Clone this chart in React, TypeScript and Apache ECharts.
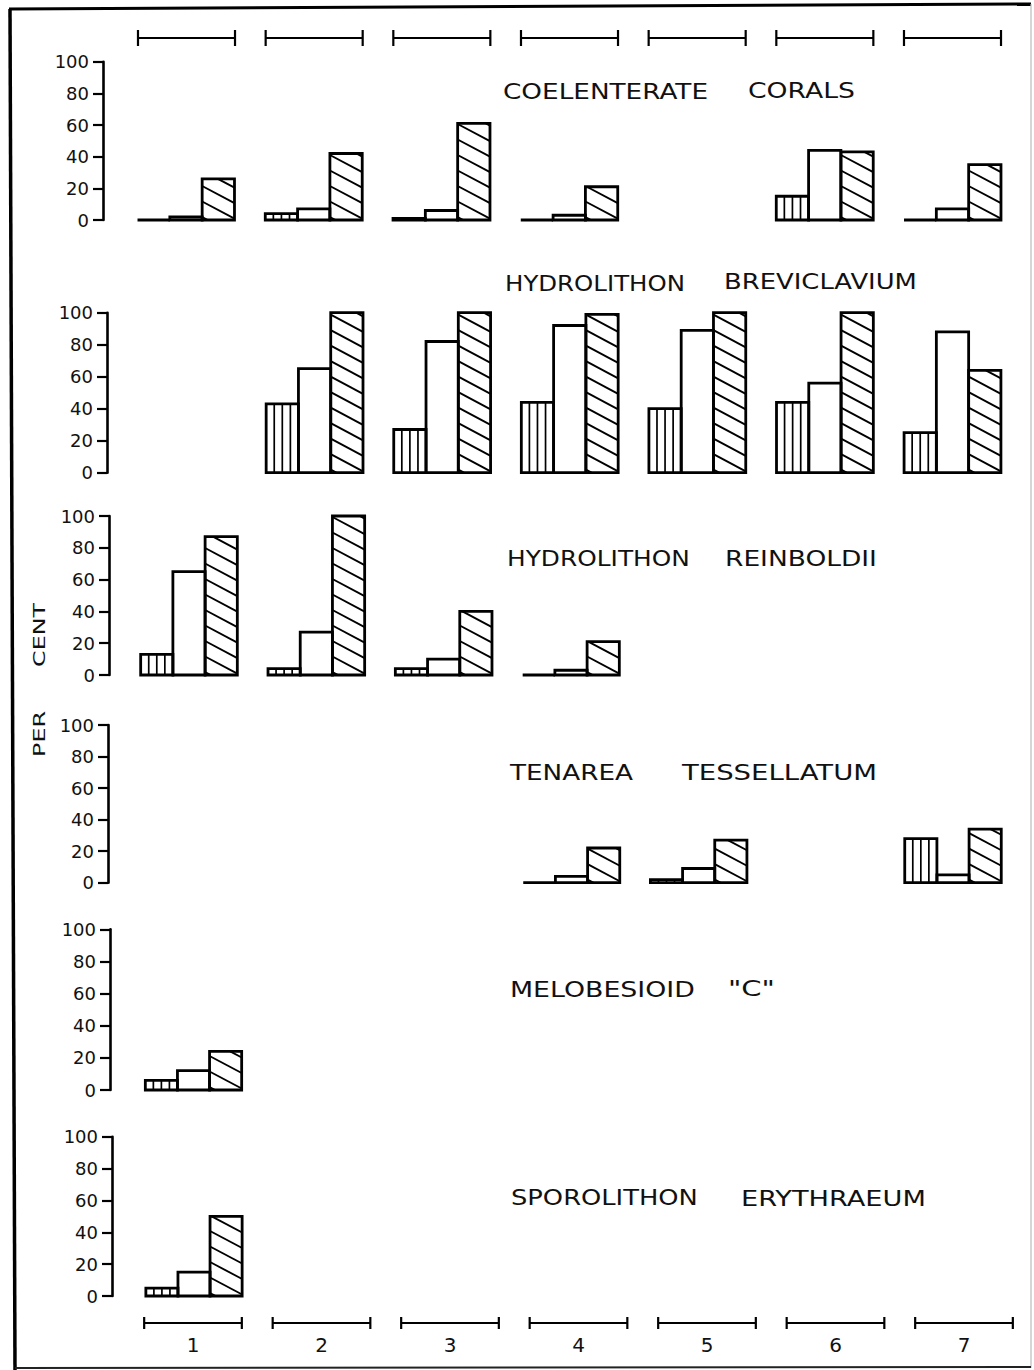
import React, { useEffect, useRef } from 'react';
import * as echarts from 'echarts';

// ---------- DATA ----------
const SITES = ['1', '2', '3', '4', '5', '6', '7'];
const Y_MIN = 0;
const Y_MAX = 100;
const Y_STEP = 20;

const CORALS_VERT = [0, 4, 1, 0, null, 15, 0];
const CORALS_OPEN = [2, 7, 6, 3, null, 44, 7];
const CORALS_DIAG = [26, 42, 61, 21, null, 43, 35];

const BREV_VERT = [null, 43, 27, 44, 40, 44, 25];
const BREV_OPEN = [null, 65, 82, 92, 89, 56, 88];
const BREV_DIAG = [null, 100, 100, 99, 100, 100, 64];

const REIN_VERT = [13, 4, 4, 0, null, null, null];
const REIN_OPEN = [65, 27, 10, 3, null, null, null];
const REIN_DIAG = [87, 100, 40, 21, null, null, null];

const TESS_VERT = [null, null, null, 0, 2, null, 28];
const TESS_OPEN = [null, null, null, 4, 9, null, 5];
const TESS_DIAG = [null, null, null, 22, 27, null, 34];

const MELO_VERT = [6, null, null, null, null, null, null];
const MELO_OPEN = [12, null, null, null, null, null, null];
const MELO_DIAG = [24, null, null, null, null, null, null];

const SPORO_VERT = [5, null, null, null, null, null, null];
const SPORO_OPEN = [15, null, null, null, null, null, null];
const SPORO_DIAG = [50, null, null, null, null, null, null];

const PANEL_DATA = [
  [CORALS_VERT, CORALS_OPEN, CORALS_DIAG],
  [BREV_VERT, BREV_OPEN, BREV_DIAG],
  [REIN_VERT, REIN_OPEN, REIN_DIAG],
  [TESS_VERT, TESS_OPEN, TESS_DIAG],
  [MELO_VERT, MELO_OPEN, MELO_DIAG],
  [SPORO_VERT, SPORO_OPEN, SPORO_DIAG],
];

const PANEL_TITLES = [
  ['COELENTERATE', 'CORALS'],
  ['HYDROLITHON', 'BREVICLAVIUM'],
  ['HYDROLITHON', 'REINBOLDII'],
  ['TENAREA', 'TESSELLATUM'],
  ['MELOBESIOID', '"C"'],
  ['SPOROLITHON', 'ERYTHRAEUM'],
];

const Y_NAME_WORDS = ['PER', 'CENT'];

// ---------- LAYOUT (positions only) ----------
const PANEL_LAYOUT = [
  { axisX: 103, c1: 186, c7: 952.5, top: 61.7, bottom: 220, words: [[503, 708, 91], [748, 855, 90]] },
  { axisX: 107, c1: 187, c7: 952.5, top: 312.7, bottom: 472.7, words: [[505, 685, 283], [724, 917, 282]] },
  { axisX: 109, c1: 189, c7: 953, top: 516, bottom: 675, words: [[507, 690, 558], [725, 877, 558]] },
  { axisX: 108, c1: 190, c7: 953, top: 725, bottom: 882.7, words: [[510, 633, 773], [682, 877, 772]] },
  { axisX: 110, c1: 193.5, c7: 955, top: 929.3, bottom: 1090, words: [[510, 695, 989], [728, 775, 988]] },
  { axisX: 112, c1: 194, c7: 955, top: 1136.7, bottom: 1296, words: [[511, 698, 1198], [741, 926, 1198]] },
];
const TOP_BRACKETS = { c1: 186.5, c7: 952.5, top: 30, bottom: 46 };
const BOTTOM_BRACKETS = { c1: 193, c7: 964, top: 1317, bottom: 1329 };

const INK = '#111';
const FONT = '"DejaVu Sans", "Liberation Sans", sans-serif';
const TITLE_FONT_SIZE = 22;

function measure(text: string, font: string): number {
  const c = document.createElement('canvas');
  const ctx = c.getContext('2d');
  if (!ctx) return text.length * 14;
  ctx.font = font;
  return ctx.measureText(text).width;
}

function barRenderItem(params: any, api: any) {
  const i = api.value(0);
  const base = api.coord([i, 0]);
  const cx = base[0];
  const y0 = base[1];
  const band = api.size([1, 0])[0];
  const bw = band * 0.253;
  const x0 = cx - 1.5 * bw;
  const fills: any[] = [];
  const hatch: any[] = [];
  const outlines: any[] = [];
  for (let k = 0; k < 3; k++) {
    const raw = api.value(k + 1);
    if (raw === null || raw === undefined || isNaN(raw)) continue;
    const yt = api.coord([i, raw])[1];
    const xl = x0 + k * bw;
    const h = y0 - yt;
    fills.push({ type: 'rect', shape: { x: xl, y: yt, width: bw, height: h }, style: { fill: '#fff' } });
    if (h > 0.5) {
      if (k === 0) {
        for (let j = 1; j <= 3; j++) {
          const lx = xl + (j * bw) / 4;
          hatch.push({ type: 'line', shape: { x1: lx, y1: yt, x2: lx, y2: y0 }, style: { stroke: '#000', lineWidth: 1.7 } });
        }
      } else if (k === 2) {
        const s = 0.53;
        const gap = 15.5;
        for (let a = y0 - 3; a > yt - s * bw - gap; a -= gap) {
          const xs = Math.max(xl, xl + (yt - a) / s);
          const xe = Math.min(xl + bw, xl + (y0 - a) / s);
          if (xe > xs + 0.8) {
            hatch.push({
              type: 'line',
              shape: { x1: xs, y1: a + s * (xs - xl), x2: xe, y2: a + s * (xe - xl) },
              style: { stroke: '#000', lineWidth: 1.9 },
            });
          }
        }
      }
    }
    outlines.push({ type: 'rect', shape: { x: xl, y: yt, width: bw, height: h }, style: { fill: 'none', stroke: '#000', lineWidth: 2.8 } });
  }
  return { type: 'group', children: [...fills, ...hatch, ...outlines] };
}

function bracketRenderItem(params: any, api: any) {
  const i = api.value(0);
  const mid = api.coord([i, 0.5]);
  const yTop = api.coord([i, 1])[1];
  const yBot = api.coord([i, 0])[1];
  const half = api.size([1, 0])[0] * 0.38;
  const st = { stroke: '#000', lineWidth: 2.2 };
  return {
    type: 'group',
    children: [
      { type: 'line', shape: { x1: mid[0] - half, y1: mid[1], x2: mid[0] + half, y2: mid[1] }, style: st },
      { type: 'line', shape: { x1: mid[0] - half, y1: yTop, x2: mid[0] - half, y2: yBot }, style: st },
      { type: 'line', shape: { x1: mid[0] + half, y1: yTop, x2: mid[0] + half, y2: yBot }, style: st },
    ],
  };
}

function buildOption() {
  const grid: any[] = [];
  const xAxis: any[] = [];
  const yAxis: any[] = [];
  const series: any[] = [];
  const graphic: any[] = [];

  PANEL_LAYOUT.forEach((L, p) => {
    const bw = (L.c7 - L.c1) / 6;
    const left = L.c1 - bw / 2;
    grid.push({ left, top: L.top, width: bw * 7, height: L.bottom - L.top, containLabel: false, outerBoundsMode: 'none' });
    xAxis.push({ type: 'category', gridIndex: p, data: SITES, show: false, boundaryGap: true });
    yAxis.push({
      type: 'value', gridIndex: p, min: Y_MIN, max: Y_MAX, interval: Y_STEP,
      offset: left - L.axisX,
      axisLine: { show: true, lineStyle: { color: '#000', width: 2.6 } },
      axisTick: { show: true, inside: false, length: 10, lineStyle: { color: '#000', width: 2.2 } },
      axisLabel: { show: true, margin: 14, color: INK, fontSize: 18, fontFamily: FONT },
      splitLine: { show: false },
    });
    const [V, O, D] = PANEL_DATA[p];
    const rows: any[] = [];
    SITES.forEach((_, i) => {
      if (V[i] === null && O[i] === null && D[i] === null) return;
      rows.push([i, V[i] === null ? '-' : V[i], O[i] === null ? '-' : O[i], D[i] === null ? '-' : D[i]]);
    });
    series.push({
      type: 'custom', xAxisIndex: p, yAxisIndex: p, renderItem: barRenderItem,
      encode: { x: 0, y: [1, 2, 3] }, data: rows, silent: true,
    });
    // titles
    PANEL_TITLES[p].forEach((w, k) => {
      const [xl, xr, yc] = L.words[k];
      const font = `${TITLE_FONT_SIZE}px ${FONT}`;
      const mw = measure(w, font);
      graphic.push({
        type: 'text', x: xl, y: yc, scaleX: (xr - xl) / mw, silent: true,
        style: { text: w, font, fill: INK, align: 'left', verticalAlign: 'middle' },
      });
    });
  });

  // top brackets
  const tIdx = grid.length;
  const tbw = (TOP_BRACKETS.c7 - TOP_BRACKETS.c1) / 6;
  grid.push({ left: TOP_BRACKETS.c1 - tbw / 2, top: TOP_BRACKETS.top, width: tbw * 7, height: TOP_BRACKETS.bottom - TOP_BRACKETS.top, containLabel: false, outerBoundsMode: 'none' });
  xAxis.push({ type: 'category', gridIndex: tIdx, data: SITES, show: false });
  yAxis.push({ type: 'value', gridIndex: tIdx, min: 0, max: 1, show: false });
  series.push({ type: 'custom', xAxisIndex: tIdx, yAxisIndex: tIdx, renderItem: bracketRenderItem, encode: { x: 0 }, data: SITES.map((_, i) => [i]), silent: true });

  // bottom brackets with site labels
  const bIdx = grid.length;
  const bbw = (BOTTOM_BRACKETS.c7 - BOTTOM_BRACKETS.c1) / 6;
  grid.push({ left: BOTTOM_BRACKETS.c1 - bbw / 2, top: BOTTOM_BRACKETS.top, width: bbw * 7, height: BOTTOM_BRACKETS.bottom - BOTTOM_BRACKETS.top, containLabel: false, outerBoundsMode: 'none' });
  xAxis.push({
    type: 'category', gridIndex: bIdx, data: SITES, position: 'bottom',
    axisLine: { show: false }, axisTick: { show: false },
    axisLabel: { show: true, margin: 6, color: INK, fontSize: 20, fontFamily: FONT },
  });
  yAxis.push({ type: 'value', gridIndex: bIdx, min: 0, max: 1, show: false });
  series.push({ type: 'custom', xAxisIndex: bIdx, yAxisIndex: bIdx, renderItem: bracketRenderItem, encode: { x: 0 }, data: SITES.map((_, i) => [i]), silent: true });

  // y axis name "PER CENT"
  const yNamePos = [[40, 734, 46], [40, 635, 64]];
  Y_NAME_WORDS.forEach((w, k) => {
    const font = `15px ${FONT}`;
    const mw = measure(w, font);
    graphic.push({
      type: 'text', x: yNamePos[k][0], y: yNamePos[k][1], rotation: Math.PI / 2, scaleX: yNamePos[k][2] / mw, silent: true,
      style: { text: w, font, fill: INK, align: 'center', verticalAlign: 'middle' },
    });
  });

  // frame
  graphic.push({ type: 'line', silent: true, shape: { x1: 10, y1: 9, x2: 15, y2: 1370 }, style: { stroke: '#000', lineWidth: 3.5 } });
  graphic.push({ type: 'line', silent: true, shape: { x1: 9, y1: 9, x2: 1031, y2: 4 }, style: { stroke: '#000', lineWidth: 3 } });
  graphic.push({ type: 'line', silent: true, shape: { x1: 1031, y1: 4, x2: 1031, y2: 1368 }, style: { stroke: '#bbb', lineWidth: 1.2 } });
  graphic.push({ type: 'line', silent: true, shape: { x1: 15, y1: 1368, x2: 1031, y2: 1367 }, style: { stroke: '#222', lineWidth: 2 } });

  return {
    animation: false,
    backgroundColor: '#fff',
    grid, xAxis, yAxis, series, graphic,
  };
}

export default function App() {
  const ref = useRef<HTMLDivElement>(null);
  useEffect(() => {
    if (!ref.current) return;
    const chart = echarts.init(ref.current, undefined, { renderer: 'svg' });
    chart.setOption(buildOption() as any);
    return () => chart.dispose();
  }, []);
  return <div ref={ref} style={{ position: 'absolute', left: 0, top: 0, width: 1034, height: 1370 }} />;
}
